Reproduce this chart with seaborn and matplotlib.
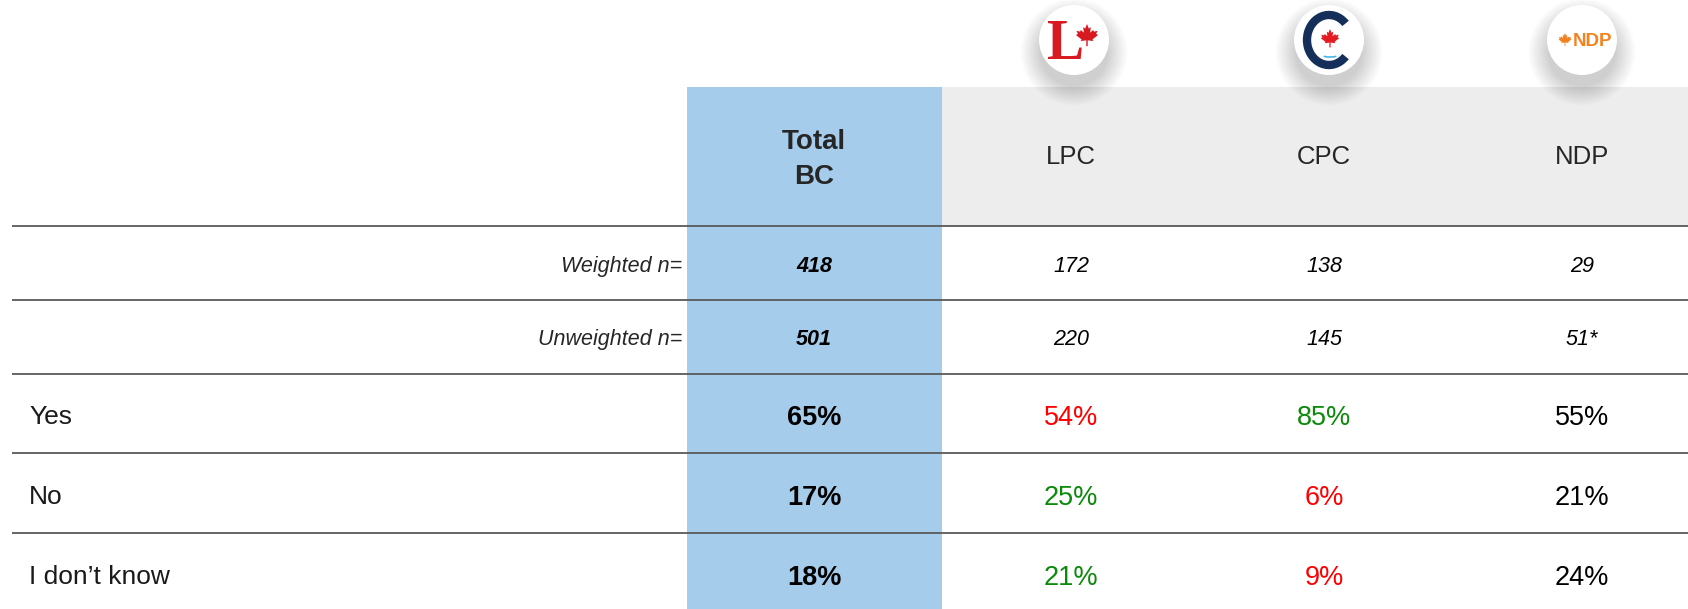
import matplotlib
matplotlib.use("Agg")
import matplotlib.pyplot as plt
from matplotlib.patches import Rectangle, Circle, Arc, Polygon
import numpy as np
import seaborn as sns

# data
row_labels = ["Yes", "No", "I don\u2019t know"]
party_cols = ["LPC", "CPC", "NDP"]
weighted_n = ["418", "172", "138", "29"]
unweighted_n = ["501", "220", "145", "51*"]
total_bc = [65, 17, 18]
lpc = [54, 25, 21]
cpc = [85, 6, 9]
ndp = [55, 21, 24]
# +1 significantly higher (green), -1 lower (red), 0 none
lpc_sig = [-1, 1, 1]
cpc_sig = [1, -1, -1]
ndp_sig = [0, 0, 0]

sns.set_theme(style="white")
plt.rcParams['font.family'] = ['Liberation Sans', 'DejaVu Sans']

W, H = 1688, 609
fig = plt.figure(figsize=(W / 100, H / 100), dpi=100)
ax = fig.add_axes([0, 0, 1, 1])
ax.set_xlim(0, W)
ax.set_ylim(H, 0)
ax.axis('off')

# layout (pixels)
blue = '#A6CCEB'
grey = '#EDEDED'
line_c = '#595959'
tot_x0, tot_x1 = 687, 942
head_top = 87
rules = [226, 300, 374, 453, 533]
row_mid = [264, 337, 415, 495, 575]
tot_cx = 814
col_cx = [1071, 1324, 1582]
green = '#0B8A0B'
red = '#FF0000'
sig_color = {1: green, -1: red, 0: 'black'}


def put(x, yc, s, size, **kw):
    # place text so that its capital letters are centred on yc
    base = yc + 0.716 * size * 100 / 72 / 2
    ax.text(x, base, s, va='baseline', fontsize=size, **kw)


ax.add_patch(Rectangle((tot_x1, head_top), W - tot_x1, rules[0] - head_top, color=grey, lw=0, zorder=0))
ax.add_patch(Rectangle((tot_x0, head_top), tot_x1 - tot_x0, H - head_top, color=blue, lw=0, zorder=0))
for y in rules:
    ax.plot([12, W], [y, y], color=line_c, lw=1.3, zorder=2, solid_capstyle='butt')

# header
put(tot_cx, 139, "Total", 20, ha='center', fontweight='bold', color='#262626')
put(tot_cx, 174, "BC", 20, ha='center', fontweight='bold', color='#262626')
for cx, name in zip(col_cx, party_cols):
    put(cx, 155, name, 18.5, ha='center', color='#262626')

# n rows
put(682, row_mid[0], "Weighted n=", 15.5, ha='right', style='italic', color='#262626')
put(682, row_mid[1], "Unweighted n=", 15.5, ha='right', style='italic', color='#262626')
for i, vals in enumerate([weighted_n, unweighted_n]):
    put(tot_cx, row_mid[i], vals[0], 15.5, ha='center', style='italic', fontweight='bold', color='black')
    for cx, v in zip(col_cx, vals[1:]):
        put(cx, row_mid[i], v, 15.5, ha='center', style='italic', color='black')

# body rows
for r, lab in enumerate(row_labels):
    y = row_mid[r + 2]
    put(29, y, lab, 19, ha='left', color='#1a1a1a')
    put(tot_cx, y, f"{total_bc[r]}%", 19.5, ha='center', fontweight='bold', color='black')
    for cx, vals, sig in zip(col_cx, [lpc, cpc, ndp], [lpc_sig, cpc_sig, ndp_sig]):
        put(cx, y, f"{vals[r]}%", 19.5, ha='center', color=sig_color[sig[r]])

# party logos
leaf_half = [(0, -1.0), (0.15, -0.62), (0.32, -0.74), (0.26, -0.28), (0.52, -0.5), (0.58, -0.36),
             (0.88, -0.44), (0.76, -0.18), (0.92, -0.08), (0.46, 0.28), (0.52, 0.42),
             (0.06, 0.36), (0.06, 0.85)]
leaf_pts = np.array(leaf_half + [(-x, y) for x, y in reversed(leaf_half)])


def leaf(cx, cy, size, color):
    ax.add_patch(Polygon(leaf_pts * size + [cx, cy], closed=True, color=color, lw=0, zorder=6))


logo_y = 40
for cx in [1074, 1329, 1582]:
    for k in range(16):
        ax.add_patch(Circle((cx, logo_y + 12), 34 + k * 1.3, color='black', alpha=0.011, lw=0, zorder=4))
    ax.add_patch(Circle((cx, logo_y), 35, color='white', lw=0, zorder=5))

ax.text(1066, logo_y + 19, "L", ha='center', va='baseline', fontsize=40, fontweight='bold',
        color='#D71920', family=['Liberation Serif', 'DejaVu Serif'], zorder=6)
leaf(1087, logo_y - 4, 12, '#D71920')

ax.add_patch(Arc((1329, logo_y), 44, 50, theta1=45, theta2=315, color='#14305A', lw=6, zorder=6))
leaf(1330, logo_y - 1, 10, '#E31B23')
ax.add_patch(Arc((1330, logo_y + 14), 20, 6, theta1=20, theta2=160, color='#47B5E8', lw=1.2, zorder=6))

leaf(1565, logo_y, 7, '#F58220')
ax.text(1592, logo_y + 6, "NDP", ha='center', va='baseline', fontsize=13.5, fontweight='bold',
        color='#F58220', zorder=6)

fig.savefig("out.png", dpi=100)
